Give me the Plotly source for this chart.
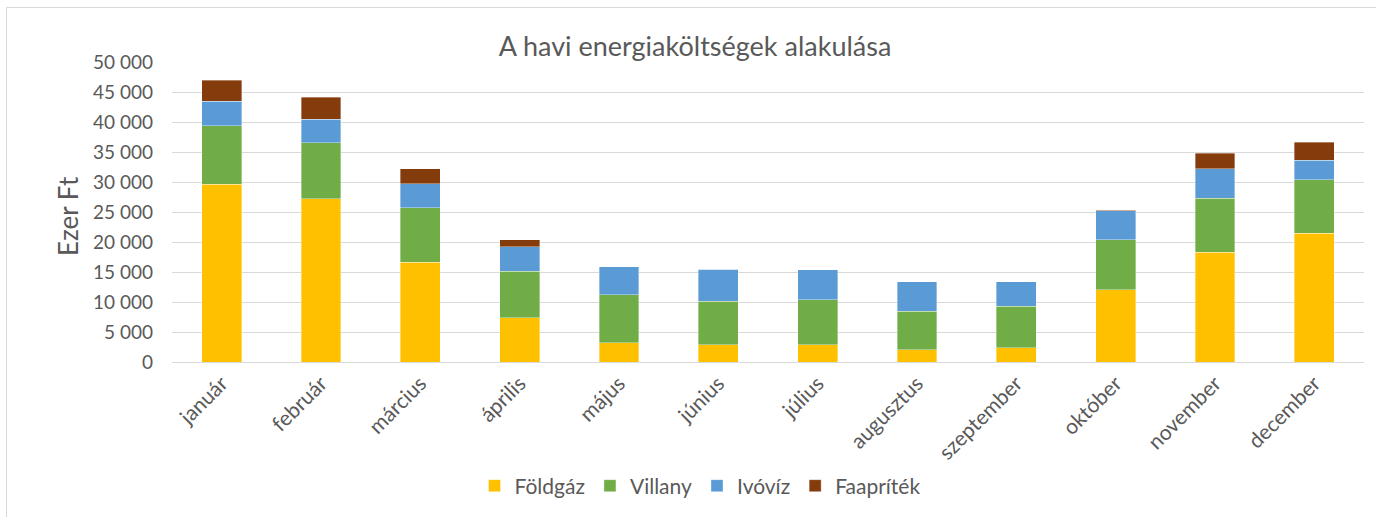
import plotly.graph_objects as go

months = ["január", "február", "március", "április", "május", "június",
          "július", "augusztus", "szeptember", "október", "november", "december"]
foldgaz = [29600, 27200, 16600, 7400, 3200, 2850, 2850, 2050, 2400, 12050, 18300, 21450]
villany = [9750, 9350, 9100, 7700, 8000, 7300, 7500, 6400, 6900, 8350, 9000, 8950]
ivoviz = [4150, 3900, 4050, 4100, 4700, 5300, 5000, 4950, 4100, 4800, 4950, 3250]
faapritek = [3500, 3650, 2500, 1200, 0, 0, 0, 0, 0, 100, 2550, 2950]

series = [("Földgáz", foldgaz, "#FFC000"),
          ("Villany", villany, "#70AD47"),
          ("Ivóvíz", ivoviz, "#5B9BD5"),
          ("Faapríték", faapritek, "#843C0C")]

FONT = "Lato"
GREY = "#595959"

fig = go.Figure()
for name, vals, col in series:
    fig.add_trace(go.Bar(x=months, y=vals, name=name, marker_color=col,
                         marker_line=dict(width=0.6, color="rgba(255,255,255,0.6)")))

W, H = 1376, 517
L, R, T, B = 172, 12, 62, 155
pw, ph = W - L - R, H - T - B

def px(x):
    return (x - L) / pw

def py(y):
    return (H - B - y) / ph

fig.update_layout(
    width=W, height=H,
    barmode="stack", bargap=0.6,
    margin=dict(l=L, r=R, t=T, b=B, autoexpand=False),
    plot_bgcolor="white", paper_bgcolor="white",
    separators=". ",
    font=dict(family=FONT, color=GREY, size=18),
    title=dict(text="A havi energiaköltségek alakulása", x=695 / W, xref="container",
               xanchor="center", y=1 - 47 / H, yref="container", yanchor="middle",
               font=dict(family=FONT, size=27, color=GREY)),
    showlegend=True,
    legend=dict(orientation="h", x=px(700), xanchor="center", y=py(486), yanchor="middle",
                font=dict(size=21, color=GREY), traceorder="normal", itemwidth=30),
    xaxis=dict(tickangle=-45, showgrid=False, showline=True, linecolor="#D9D9D9",
               linewidth=1, ticks="", tickfont=dict(size=21, color=GREY)),
    yaxis=dict(range=[0, 50000], dtick=5000, tickformat=",d", showgrid=True,
               gridcolor="#D9D9D9", gridwidth=1, zeroline=False, ticks="",
               tickfont=dict(size=19, color=GREY), ticklabelstandoff=18),
)

fig.add_annotation(text="Ezer Ft", textangle=-90, x=px(68), y=py(216), xref="paper", yref="paper",
                   xanchor="center", yanchor="middle",
                   showarrow=False, font=dict(size=26, color=GREY, family=FONT))

fig.add_shape(type="rect", xref="paper", yref="paper",
              x0=px(6.5), x1=px(1382), y0=py(7.5), y1=py(525),
              line=dict(color="#D9D9D9", width=1), layer="below")

fig.write_html("out.html", config={"displayModeBar": False},
               post_script="document.body.style.margin='0';document.body.style.overflow='hidden';")
